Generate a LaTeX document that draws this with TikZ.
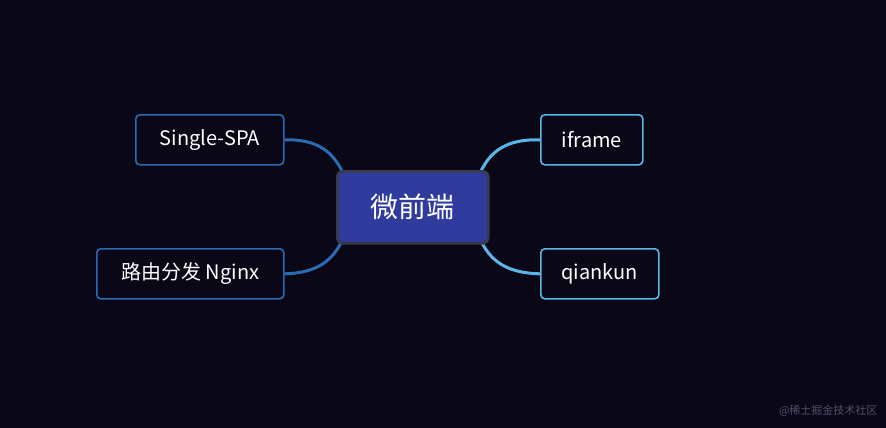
\documentclass[tikz,border=0pt]{standalone}
\usepackage{fontspec}
\setmainfont{Noto Sans CJK SC}
\definecolor{bg}{HTML}{0A0717}
\definecolor{centerfill}{HTML}{2F3C9E}
\definecolor{centerline}{HTML}{3A3A48}
\definecolor{leftline}{HTML}{2C6AB2}
\definecolor{rightline}{HTML}{5AB6E6}
\definecolor{mark}{HTML}{50506A}
\tikzset{
  leaf/.style={draw, rounded corners=4pt, line width=1.6pt, fill=bg, text=white,
    font=\fontsize{20}{23}\selectfont, inner sep=0pt, anchor=north west},
  conn/.style={line width=3pt},
}
\begin{document}
\begin{tikzpicture}[x=1pt,y=-1pt]
\fill[bg] (0,0) rectangle (886,428);
\useasboundingbox (0,0) rectangle (886,428);
\coordinate (ctl) at (343,173);
\coordinate (cbl) at (343,239);
\coordinate (ctr) at (480,173);
\coordinate (cbr) at (480,239);
\node[leaf, draw=leftline, minimum width=148pt, minimum height=50pt] (ss) at (135,114) {Single-SPA};
\node[leaf, draw=leftline, minimum width=187pt, minimum height=50pt] (ng) at (96,248) {路由分发 Nginx};
\node[leaf, draw=rightline, minimum width=102pt, minimum height=50pt] (if) at (540,114) {iframe};
\node[leaf, draw=rightline, minimum width=118pt, minimum height=50pt] (qk) at (540,248) {qiankun};
\draw[conn, leftline] (ss.east) .. controls (318,139) and (333,152) .. (ctl);
\draw[conn, leftline] (ng.east) .. controls (318,273) and (333,260) .. (cbl);
\draw[conn, rightline] (if.west) .. controls (505,139) and (490,152) .. (ctr);
\draw[conn, rightline] (qk.west) .. controls (505,273) and (490,260) .. (cbr);
\node[draw=centerline, fill=centerfill, line width=2.5pt, rounded corners=5pt, text=white,
  minimum width=151pt, minimum height=72pt, inner sep=0pt, anchor=north west,
  font=\fontsize{28}{31}\selectfont] (c) at (336,170) {微前端};
\node[text=mark, font=\fontsize{11}{13}\selectfont, anchor=east] (wm) at (881,411) {@稀土掘金技术社区};
\end{tikzpicture}
\end{document}
